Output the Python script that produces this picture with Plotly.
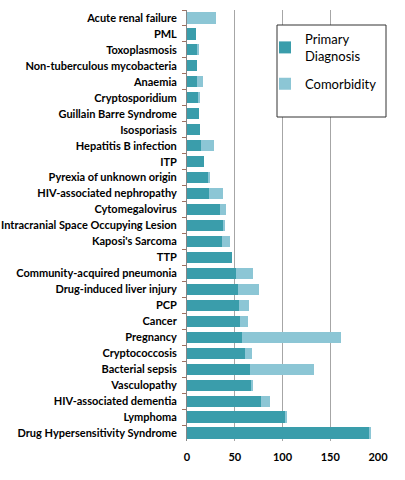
import plotly.graph_objects as go

# categories, top to bottom as drawn
diagnoses = [
    "Acute renal failure", "PML", "Toxoplasmosis", "Non-tuberculous mycobacteria",
    "Anaemia", "Cryptosporidium", "Guillain Barre Syndrome", "Isosporiasis",
    "Hepatitis B infection", "ITP", "Pyrexia of unknown origin",
    "HIV-associated nephropathy", "Cytomegalovirus",
    "Intracranial Space Occupying Lesion", "Kaposi's Sarcoma", "TTP",
    "Community-acquired pneumonia", "Drug-induced liver injury", "PCP", "Cancer",
    "Pregnancy", "Cryptococcosis", "Bacterial sepsis", "Vasculopathy",
    "HIV-associated dementia", "Lymphoma", "Drug Hypersensitivity Syndrome",
]
primary = [0, 9, 10, 10, 10, 11, 13, 14, 15, 18, 22, 23, 35, 38, 37, 47,
           51, 53, 54, 56, 58, 61, 66, 68, 78, 103, 191]
comorbidity = [30, 0, 3, 0, 7, 3, 0, 0, 13, 0, 2, 15, 6, 1, 8, 0,
               18, 22, 11, 8, 103, 7, 67, 1, 9, 2, 2]
x_ticks = [0, 50, 100, 150, 200]

# plot area in pixels (for placing the legend box)
L, R, T, B = 187, 378, 10, 441
W, H = R - L, B - T


def px_x(p):
    return (p - L) / W


def px_y(p):
    return 1 - (p - T) / H


fig = go.Figure()
fig.add_trace(go.Bar(y=diagnoses, x=primary, orientation="h",
                     name="Primary<br>Diagnosis", marker_color="#3a9dab",
                     marker_line_width=0, legendgroup="primary"))
fig.add_trace(go.Bar(y=diagnoses, x=comorbidity, orientation="h",
                     name="Comorbidity", marker_color="#8cc6d5",
                     marker_line_width=0, legendgroup="comorb"))

# legend frame
fig.add_shape(type="rect", xref="paper", yref="paper",
              x0=px_x(277), x1=px_x(386), y0=px_y(117), y1=px_y(25),
              line=dict(color="#333333", width=1), fillcolor="white",
              layer="above")

fig.update_layout(
    width=405, height=480,
    barmode="stack", bargap=0.3,
    margin=dict(l=L, r=405 - R, t=T, b=480 - B),
    paper_bgcolor="white", plot_bgcolor="white",
    font=dict(family="Lato", size=11, color="#000000"),
    legend=dict(
        x=px_x(265), y=px_y(24),
        xanchor="left", yanchor="top",
        borderwidth=0, bgcolor="rgba(0,0,0,0)",
        font=dict(family="Lato", size=13, color="#000000"),
        traceorder="grouped", tracegroupgap=8,
        itemwidth=30,
    ),
)
fig.update_xaxes(
    range=[0, 200], tickvals=x_ticks, showgrid=True,
    gridcolor="#a6a6a6", gridwidth=1, zeroline=False,
    tickfont=dict(family="Lato", size=11, color="#000000", weight="bold"),
    ticks="", showline=False, automargin=False, ticklabelstandoff=8,
)
fig.update_yaxes(
    categoryorder="array", categoryarray=diagnoses, autorange="reversed",
    showline=True, linecolor="#868686", linewidth=1,
    ticks="outside", tickcolor="#a07060", ticklen=4, tickson="boundaries",
    tickfont=dict(family="Lato", size=11, color="#000000", weight="bold"),
    automargin=False, ticklabelstandoff=7,
)

# page body has a default 8px margin; drop it so the figure sits at 0,0
fig.write_html("out.html", config={"displayModeBar": False},
               post_script="document.body.style.margin='0';")
